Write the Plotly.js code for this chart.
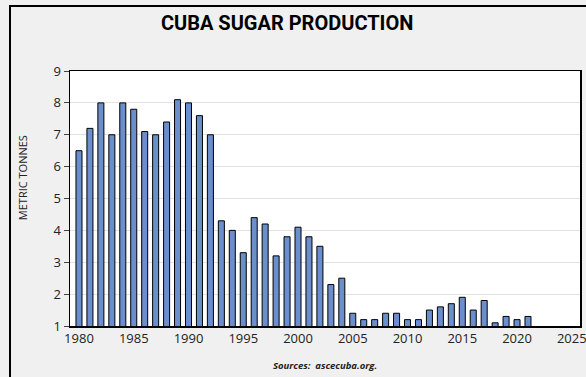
<!DOCTYPE html>
<html>
<head>
<meta charset="utf-8">
<script src="https://cdn.plot.ly/plotly-3.0.1.min.js"></script>
<style>
html,body{margin:0;padding:0;background:#f0f0f0;overflow:hidden;}
#wrap{position:relative;width:586px;height:377px;}
#chart{width:586px;height:377px;}
#frame{position:absolute;left:9px;top:5px;width:620px;height:420px;border:2px solid #000;pointer-events:none;}
</style>
</head>
<body>
<div id="wrap"><div id="chart"></div><div id="frame"></div></div>
<script>
const years = [1980,1981,1982,1983,1984,1985,1986,1987,1988,1989,1990,1991,1992,1993,1994,1995,1996,1997,1998,1999,2000,2001,2002,2003,2004,2005,2006,2007,2008,2009,2010,2011,2012,2013,2014,2015,2016,2017,2018,2019,2020,2021];
const production = [6.5,7.2,8.0,7.0,8.0,7.8,7.1,7.0,7.4,8.1,8.0,7.6,7.0,4.3,4.0,3.3,4.4,4.2,3.2,3.8,4.1,3.8,3.5,2.3,2.5,1.4,1.2,1.2,1.4,1.4,1.2,1.2,1.5,1.6,1.7,1.9,1.5,1.8,1.1,1.3,1.2,1.3];
const xTicks = [1980,1985,1990,1995,2000,2005,2010,2015,2020,2025];
const yTicks = [1,2,3,4,5,6,7,8,9];
const chartTitle = "CUBA SUGAR PRODUCTION";
const yTitle = "METRIC TONNES";
const sourceText = "Sources:  ascecuba.org.";

const trace = {
  type: 'bar',
  x: years,
  y: production,
  width: 0.55,
  marker: {color: '#6b8fcc', line: {color: '#000', width: 1}},
  hoverinfo: 'x+y'
};

const tickFont = {family: "'Open Sans', sans-serif", size: 13, color: '#222'};

const layout = {
  width: 586, height: 377,
  paper_bgcolor: '#f0f0f0',
  plot_bgcolor: '#ffffff',
  margin: {l: 70, r: 6, t: 71, b: 51},
  showlegend: false,
  title: {text: '<b>' + chartTitle + '</b>', x: 0.49, xanchor: 'center', y: 0.939, yanchor: 'middle',
          font: {family: "Roboto, 'Open Sans', sans-serif", size: 20, color: '#000'}},
  xaxis: {
    range: [1979.18, 2025.75],
    tickmode: 'array', tickvals: xTicks, ticktext: xTicks.map(String),
    showgrid: false, zeroline: false,
    showline: true, mirror: true, linecolor: '#000', linewidth: 1.5,
    ticks: '', ticklabeloverflow: 'allow', tickfont: tickFont
  },
  yaxis: {
    range: [1, 9],
    tickmode: 'array', tickvals: yTicks, ticktext: yTicks.map(String),
    showgrid: true, gridcolor: '#e3e3e3', gridwidth: 1, zeroline: false,
    showline: true, mirror: true, linecolor: '#000', linewidth: 1.5,
    ticks: 'outside', ticklen: 5, tickcolor: '#444', tickwidth: 1,
    tickfont: tickFont
  },
  annotations: [
    {text: yTitle, textangle: -90, xref: 'paper', yref: 'paper',
     x: -0.094, y: 0.58, xanchor: 'center', yanchor: 'middle', showarrow: false,
     font: {family: "'Open Sans', sans-serif", size: 11, color: '#222'}},
    {text: '<b><i>' + sourceText + '</i></b>', xref: 'paper', yref: 'paper',
     x: 0.5, y: -0.19, xanchor: 'center', yanchor: 'bottom', showarrow: false,
     font: {family: "'Open Sans', sans-serif", size: 9.5, color: '#222'}}
  ]
};

Plotly.newPlot('chart', [trace], layout, {displayModeBar: false, staticPlot: true});
</script>
</body>
</html>
